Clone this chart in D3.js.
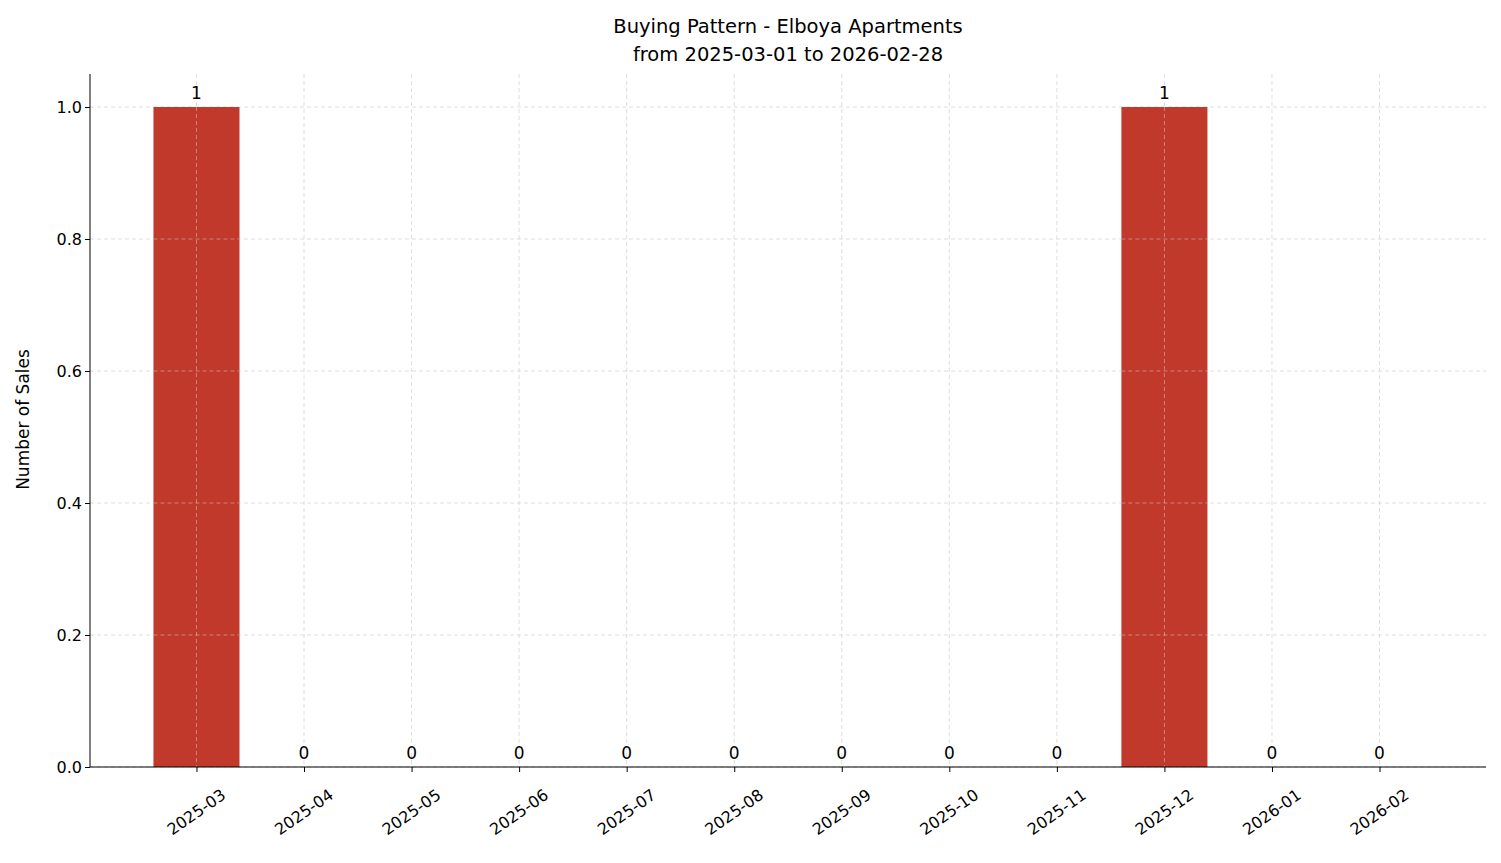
<!DOCTYPE html>
<html><head><meta charset="utf-8">
<script src="https://cdn.jsdelivr.net/npm/d3@7"></script>
<style>body{margin:0;background:#fff;font-family:"DejaVu Sans",sans-serif;}</style>
</head><body><svg id="c" width="1501" height="863"></svg>
<script>
const months = ["2025-03","2025-04","2025-05","2025-06","2025-07","2025-08","2025-09","2025-10","2025-11","2025-12","2026-01","2026-02"];
const sales = [1,0,0,0,0,0,0,0,0,1,0,0];
const yTicks = [0,0.2,0.4,0.6,0.8,1.0];

const svg = d3.select("#c");
const L=90,R=1486,T=74,B=767;
const x = d3.scaleLinear().domain([-0.99,11.99]).range([L,R]);
const y = d3.scaleLinear().domain([0,1.05]).range([B,T]);
const bw = x(0.4)-x(-0.4);
const gridC="#d6d6d6";
const g = svg.append("g");
g.selectAll(".gx").data(months).enter().append("line")
 .attr("x1",(d,i)=>x(i)).attr("x2",(d,i)=>x(i)).attr("y1",T).attr("y2",B)
 .attr("stroke",gridC).attr("stroke-dasharray","4,3").attr("stroke-width",0.8);
g.selectAll(".gy").data(yTicks).enter().append("line")
 .attr("x1",L).attr("x2",R).attr("y1",d=>y(d)).attr("y2",d=>y(d))
 .attr("stroke",gridC).attr("stroke-dasharray","4,3").attr("stroke-width",0.8);
g.selectAll(".bar").data(sales).enter().append("rect")
 .attr("x",(d,i)=>x(i)-bw/2).attr("width",bw)
 .attr("y",d=>y(d)).attr("height",d=>B-y(d)).attr("fill","#c0392b");
sales.forEach((d,i)=>{ if(d>0){ g.append("line").attr("x1",x(i)).attr("x2",x(i)).attr("y1",y(d)).attr("y2",B)
 .attr("stroke",gridC).attr("stroke-opacity",0.6).attr("stroke-dasharray","4,3").attr("stroke-width",0.8);
 [0.2,0.4,0.6,0.8].forEach(t=>g.append("line").attr("x1",x(i)-bw/2).attr("x2",x(i)+bw/2).attr("y1",y(t)).attr("y2",y(t))
 .attr("stroke",gridC).attr("stroke-opacity",0.6).attr("stroke-dasharray","4,3").attr("stroke-width",0.8));}});
g.selectAll(".vl").data(sales).enter().append("text")
 .attr("x",(d,i)=>x(i)).attr("y",d=>y(d)-8).attr("text-anchor","middle")
 .style("font-size","17px").text(d=>d);
const ya = svg.append("g").attr("transform",`translate(${L},0)`)
 .call(d3.axisLeft(y).tickValues(yTicks).tickFormat(d3.format(".1f")).tickSize(5));
ya.select(".domain").attr("d",`M0,${B}V${T}`);
ya.selectAll("text").style("font-size","16px").style("font-family","DejaVu Sans").attr("fill","#000");
const xa = svg.append("g").attr("transform",`translate(0,${B})`)
 .call(d3.axisBottom(x).tickValues(d3.range(months.length)).tickFormat(i=>months[i]).tickSize(5));
xa.select(".domain").attr("d",`M${L},0H${R}`);
xa.selectAll("text").style("font-size","16px").style("font-family","DejaVu Sans").attr("fill","#000")
 .attr("text-anchor","middle").attr("dy",0).attr("y",0)
 .attr("transform","translate(0,46) rotate(-35)").attr("dominant-baseline","middle");
svg.append("text").attr("x",788).attr("y",33).attr("text-anchor","middle").style("font-size","19.5px").text("Buying Pattern - Elboya Apartments");
svg.append("text").attr("x",788).attr("y",61).attr("text-anchor","middle").style("font-size","19.5px").text("from 2025-03-01 to 2026-02-28");
svg.append("text").attr("transform",`translate(29,${(T+B)/2 - 1}) rotate(-90)`).attr("text-anchor","middle").style("font-size","17px").text("Number of Sales");
</script></body></html>
